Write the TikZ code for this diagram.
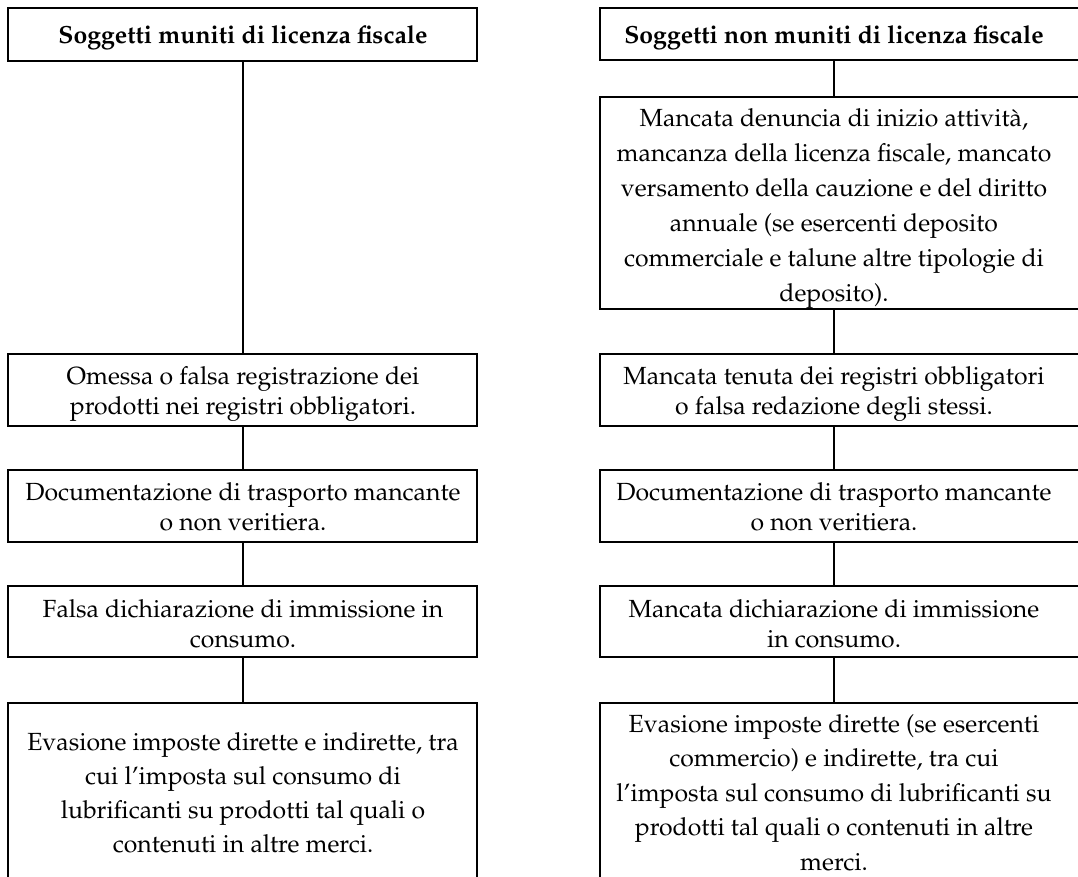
\documentclass[tikz,border=0pt]{standalone}
\usepackage[T1]{fontenc}
\usepackage{mathpazo}
\newcommand{\topstrut}{\rule{0pt}{20pt}}
\begin{document}
\begin{tikzpicture}[x=1pt,y=-1pt,
  box/.style={draw=black,line width=2pt,rectangle,inner sep=0pt},
  txt/.style={align=center,inner sep=0pt,anchor=north,font=\fontsize{24.8}{#1}\selectfont},
  txt/.default=30,
  conn/.style={draw=black,line width=1.8pt}]
\useasboundingbox (0,0) rectangle (1078,876);
\clip (0,0) rectangle (1078,876);
\coordinate (lx) at (243,0);
\coordinate (rx) at (834,0);
% left column boxes
\node[box,minimum width=469,minimum height=53] (L1) at (242.5,34.5) {};
\node[box,minimum width=469,minimum height=72] (L3) at (242.5,390) {};
\node[box,minimum width=469,minimum height=72] (L4) at (242.5,506) {};
\node[box,minimum width=469,minimum height=71] (L5) at (242.5,621.5) {};
\node[box,minimum width=469,minimum height=194] (L6) at (242.5,800) {};
% right column boxes
\node[box,minimum width=490,minimum height=52] (R1) at (845,34) {};
\node[box,minimum width=490,minimum height=212] (R2) at (845,203) {};
\node[box,minimum width=490,minimum height=72] (R3) at (845,390) {};
\node[box,minimum width=490,minimum height=72] (R4) at (845,506) {};
\node[box,minimum width=490,minimum height=71] (R5) at (845,621.5) {};
\node[box,minimum width=490,minimum height=194] (R6) at (845,800) {};
% texts (node top = first baseline - 20)
\node[txt] (tL1) at (243,23.5) {\topstrut\bfseries Soggetti muniti di licenza fiscale};
\node[txt] (tL3) at (243,364) {\topstrut Omessa o falsa registrazione dei\\prodotti nei registri obbligatori.};
\node[txt] (tL4) at (243,480) {\topstrut Documentazione di trasporto mancante\\o non veritiera.};
\node[txt] (tL5) at (243,597) {\topstrut Falsa dichiarazione di immissione in\\consumo.};
\node[txt=34] (tL6) at (243,730) {\topstrut Evasione imposte dirette e indirette, tra\\cui l'imposta sul consumo di\\lubrificanti su prodotti tal quali o\\contenuti in altre merci.};
\node[txt] (tR1) at (834,23.5) {\topstrut\bfseries Soggetti non muniti di licenza fiscale};
\node[txt=35] (tR2) at (834,106) {\topstrut Mancata denuncia di inizio attivit\`a,\\mancanza della licenza fiscale, mancato\\versamento della cauzione e del diritto\\annuale (se esercenti deposito\\commerciale e talune altre tipologie di\\deposito).};
\node[txt] (tR3) at (834,364) {\topstrut Mancata tenuta dei registri obbligatori\\o falsa redazione degli stessi.};
\node[txt] (tR4) at (834,480) {\topstrut Documentazione di trasporto mancante\\o non veritiera.};
\node[txt] (tR5) at (834,597) {\topstrut Mancata dichiarazione di immissione\\in consumo.};
\node[txt=34.5] (tR6) at (834,712) {\topstrut Evasione imposte dirette (se esercenti\\commercio) e indirette, tra cui\\l'imposta sul consumo di lubrificanti su\\prodotti tal quali o contenuti in altre\\merci.};
% connectors
\draw[conn] (L1.south -| lx) -- (L3.north -| lx);
\draw[conn] (L3.south -| lx) -- (L4.north -| lx);
\draw[conn] (L4.south -| lx) -- (L5.north -| lx);
\draw[conn] (L5.south -| lx) -- (L6.north -| lx);
\draw[conn] (R1.south -| rx) -- (R2.north -| rx);
\draw[conn] (R2.south -| rx) -- (R3.north -| rx);
\draw[conn] (R3.south -| rx) -- (R4.north -| rx);
\draw[conn] (R4.south -| rx) -- (R5.north -| rx);
\draw[conn] (R5.south -| rx) -- (R6.north -| rx);
\end{tikzpicture}
\end{document}
